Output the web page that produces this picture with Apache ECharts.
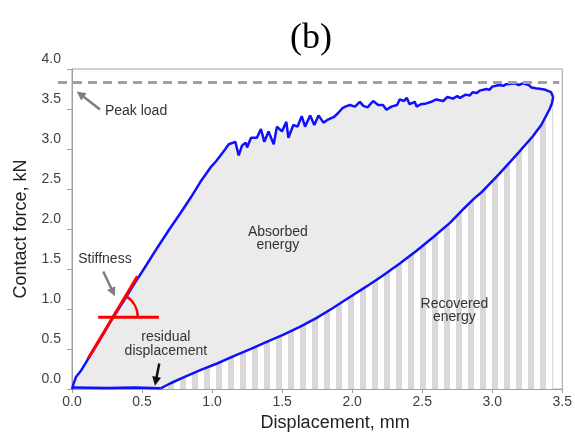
<!DOCTYPE html>
<html><head><meta charset="utf-8">
<script src="https://cdn.jsdelivr.net/npm/echarts@6/dist/echarts.min.js"></script>
<style>html,body{margin:0;padding:0;background:#fff}#c{width:575px;height:437px}</style>
</head><body><div id="c"></div>
<script>
// ---- data ----
const titleText = '(b)';
const xAxisName = 'Displacement, mm';
const yAxisName = 'Contact force, kN';
const xRange = [0, 3.5];
const yRange = [0, 4];
const tickStep = [0.5];
const loadingCurve = [
 [0,0],[0.01,0.06],[0.028,0.15],[0.064,0.23],[0.123,0.40],[0.2,0.62],[0.277,0.85],[0.372,1.11],
 [0.45,1.33],[0.52,1.52],[0.61,1.77],[0.70,2.01],[0.775,2.20],[0.85,2.40],[0.917,2.59],[0.989,2.77],
 [1.03,2.85],[1.06,2.92],[1.095,3.00],[1.119,3.06],[1.166,3.09],[1.19,2.92],[1.213,3.04],[1.24,3.08],
 [1.25,3.02],[1.278,3.14],[1.32,3.14],[1.349,3.25],[1.373,3.09],[1.403,3.22],[1.44,3.06],[1.463,3.28],
 [1.499,3.22],[1.53,3.34],[1.545,3.14],[1.58,3.30],[1.61,3.28],[1.64,3.41],[1.664,3.28],[1.70,3.42],
 [1.73,3.30],[1.76,3.42],[1.795,3.33],[1.82,3.36],[1.854,3.39],[1.87,3.40],[1.90,3.45],[1.93,3.51],
 [1.95,3.53],[1.984,3.55],[2.02,3.53],[2.055,3.59],[2.08,3.54],[2.11,3.52],[2.15,3.60],[2.186,3.55],
 [2.22,3.55],[2.245,3.49],[2.28,3.53],[2.32,3.55],[2.34,3.62],[2.37,3.60],[2.39,3.64],[2.41,3.56],
 [2.447,3.59],[2.46,3.53],[2.49,3.56],[2.53,3.57],[2.565,3.59],[2.60,3.62],[2.65,3.60],[2.68,3.65],
 [2.72,3.63],[2.75,3.66],[2.77,3.64],[2.81,3.68],[2.84,3.67],[2.86,3.71],[2.89,3.70],[2.91,3.73],
 [2.96,3.75],[2.98,3.74],[3.00,3.78],[3.05,3.80],[3.08,3.79],[3.10,3.81],[3.16,3.82],[3.19,3.80],
 [3.22,3.82],[3.26,3.80],[3.28,3.77],[3.31,3.76],[3.35,3.75],[3.38,3.74],[3.42,3.71],[3.435,3.65]
];
const unloadingCurve = [
 [3.435,3.65],[3.426,3.57],[3.41,3.50],[3.395,3.45],[3.35,3.30],[3.29,3.16],[3.17,2.92],[3.05,2.69],
 [2.93,2.47],[2.87,2.38],[2.80,2.26],[2.70,2.08],[2.58,1.90],[2.46,1.73],[2.34,1.57],[2.22,1.42],
 [2.10,1.28],[1.984,1.15],[1.86,1.01],[1.747,0.89],[1.63,0.78],[1.51,0.68],[1.39,0.59],[1.273,0.50],
 [1.15,0.41],[1.036,0.32],[0.92,0.24],[0.80,0.15],[0.70,0.07],[0.633,0.01]
];
const closingCurve = [[0.633,0.01],[0.45,0.02],[0.25,0.015],[0.0,0.02]];
const peakLoad = [3.83];
const stiffnessTangent = [[0.116,0.385],[0.467,1.41]];
const stiffnessBase = [[0.187,0.897],[0.62,0.897]];
const labels = ['Peak load', 'Stiffness', 'residual\ndisplacement', 'Absorbed\nenergy', 'Recovered\nenergy'];

// ---- styles ----
const BLUE = '#1010ff', FILL = '#ebebeb', STRIPE = '#d9d9d9', AXIS = '#a0a0a0', TXT = '#333';
const FONT = 'Liberation Sans, Arial, sans-serif';

const pc = document.createElement('canvas');
pc.width = 12; pc.height = 12;
const pctx = pc.getContext('2d');
pctx.fillStyle = '#fff'; pctx.fillRect(0,0,12,12);
pctx.fillStyle = STRIPE; pctx.fillRect(0,0,6,12);

const chart = echarts.init(document.getElementById('c'), null, {renderer:'canvas'});
const lineSeries = (data, area, showLine) => ({
  type:'line', data, symbol:'none', showSymbol:false, animation:false,
  lineStyle: showLine ? {color:BLUE, width:2.5} : {width:0, opacity:0},
  areaStyle: area || undefined, z: showLine ? 5 : 2
});
chart.setOption({
  animation:false,
  title:{text:titleText, left:285, top:16, textStyle:{fontFamily:'Liberation Serif, Times New Roman, serif', fontSize:36, fontWeight:'normal', color:'#000'}},
  grid:{left:72, right:12, top:69, bottom:42.5, show:true, borderColor:AXIS, borderWidth:1},
  xAxis:{type:'value', min:xRange[0], max:xRange[1], interval:tickStep[0],
    name:xAxisName, nameLocation:'middle', nameGap:18,
    nameTextStyle:{fontFamily:FONT, fontSize:18, color:'#222', padding:[0,0,0,36]},
    axisLine:{lineStyle:{color:AXIS}}, axisTick:{show:true, length:4, lineStyle:{color:AXIS}},
    splitLine:{show:false},
    axisLabel:{fontFamily:FONT, fontSize:14, color:'#404040', margin:6, formatter:v=>v.toFixed(1)}},
  yAxis:{type:'value', min:yRange[0], max:yRange[1], interval:tickStep[0],
    name:yAxisName, nameLocation:'middle', nameGap:42,
    nameTextStyle:{fontFamily:FONT, fontSize:18, color:'#222'},
    axisLine:{show:true, lineStyle:{color:AXIS}}, axisTick:{show:true, length:5, lineStyle:{color:AXIS}},
    splitLine:{show:false},
    axisLabel:{fontFamily:FONT, fontSize:14, color:'#404040', margin:11, verticalAlign:'bottom', padding:[0,0,3,0], formatter:v=>v.toFixed(1)}},
  series:[
    lineSeries(loadingCurve, {color:FILL, opacity:1}, false),
    lineSeries(unloadingCurve, {color:{image:pc, repeat:'repeat'}, opacity:1}, false),
    lineSeries(loadingCurve, null, true),
    lineSeries(unloadingCurve, null, true),
    lineSeries(closingCurve, null, true)
  ]
});

const P = (x,y) => chart.convertToPixel({gridIndex:0}, [x,y]);
function arrow(p0, p1, color, w, hl, hw) {
  const dx=p1[0]-p0[0], dy=p1[1]-p0[1], L=Math.hypot(dx,dy), ux=dx/L, uy=dy/L;
  const bx=p1[0]-ux*hl, by=p1[1]-uy*hl;
  return [
    {type:'line', z:100, shape:{x1:p0[0],y1:p0[1],x2:bx+ux*2,y2:by+uy*2}, style:{stroke:color, lineWidth:w}},
    {type:'polygon', z:100, shape:{points:[[p1[0],p1[1]],[bx-uy*hw,by+ux*hw],[bx+uy*hw,by-ux*hw]]}, style:{fill:color}}
  ];
}
function text(t, p, align, lh) {
  return {type:'text', z:100, x:p[0], y:p[1], style:{text:t, fill:TXT, font:'14px '+FONT, align:align||'center', verticalAlign:'middle', lineHeight:lh||14}};
}
const g = [];
const pk = P(0, peakLoad[0]);
const xr = P(xRange[1], 0);
g.push({type:'line', z:90, shape:{x1:pk[0]-14, y1:pk[1], x2:xr[0]-3, y2:pk[1]}, style:{stroke:'#a0a0a0', lineWidth:3, lineDash:[9,6]}});
g.push(...arrow(P(0.20,3.495), P(0.034,3.72), '#7f7f7f', 2.5, 9, 4.5));
g.push(text(labels[0], P(0.235,3.47), 'left'));
const t0 = P(...stiffnessTangent[0]), t1 = P(...stiffnessTangent[1]);
const b0 = P(...stiffnessBase[0]), b1 = P(...stiffnessBase[1]);
g.push({type:'line', z:100, shape:{x1:t0[0],y1:t0[1],x2:t1[0],y2:t1[1]}, style:{stroke:'#ff0000', lineWidth:3}});
g.push({type:'line', z:100, shape:{x1:b0[0],y1:b0[1],x2:b1[0],y2:b1[1]}, style:{stroke:'#ff0000', lineWidth:3}});
const sx = t0[0] + (b0[1]-t0[1]) * (t1[0]-t0[0]) / (t1[1]-t0[1]);
const ang = Math.atan2(t1[1]-t0[1], t1[0]-t0[0]);
g.push({type:'arc', z:100, shape:{cx:sx, cy:b0[1], r:25, startAngle:ang, endAngle:0, clockwise:true}, style:{stroke:'#ff0000', lineWidth:2.5, fill:null}});
g.push(...arrow(P(0.223,1.47), P(0.307,1.16), '#7f7f7f', 2.5, 9, 4.5));
g.push(text(labels[1], P(0.235,1.62)));
g.push(text(labels[2], P(0.67,0.56)));
g.push(...arrow(P(0.623,0.32), P(0.592,0.043), '#111', 2.5, 9, 4.5));
g.push(text(labels[3], P(1.47,1.88), 'center', 13));
g.push(text(labels[4], P(2.73,0.98), 'center', 13));
chart.setOption({graphic:g});
</script></body></html>
